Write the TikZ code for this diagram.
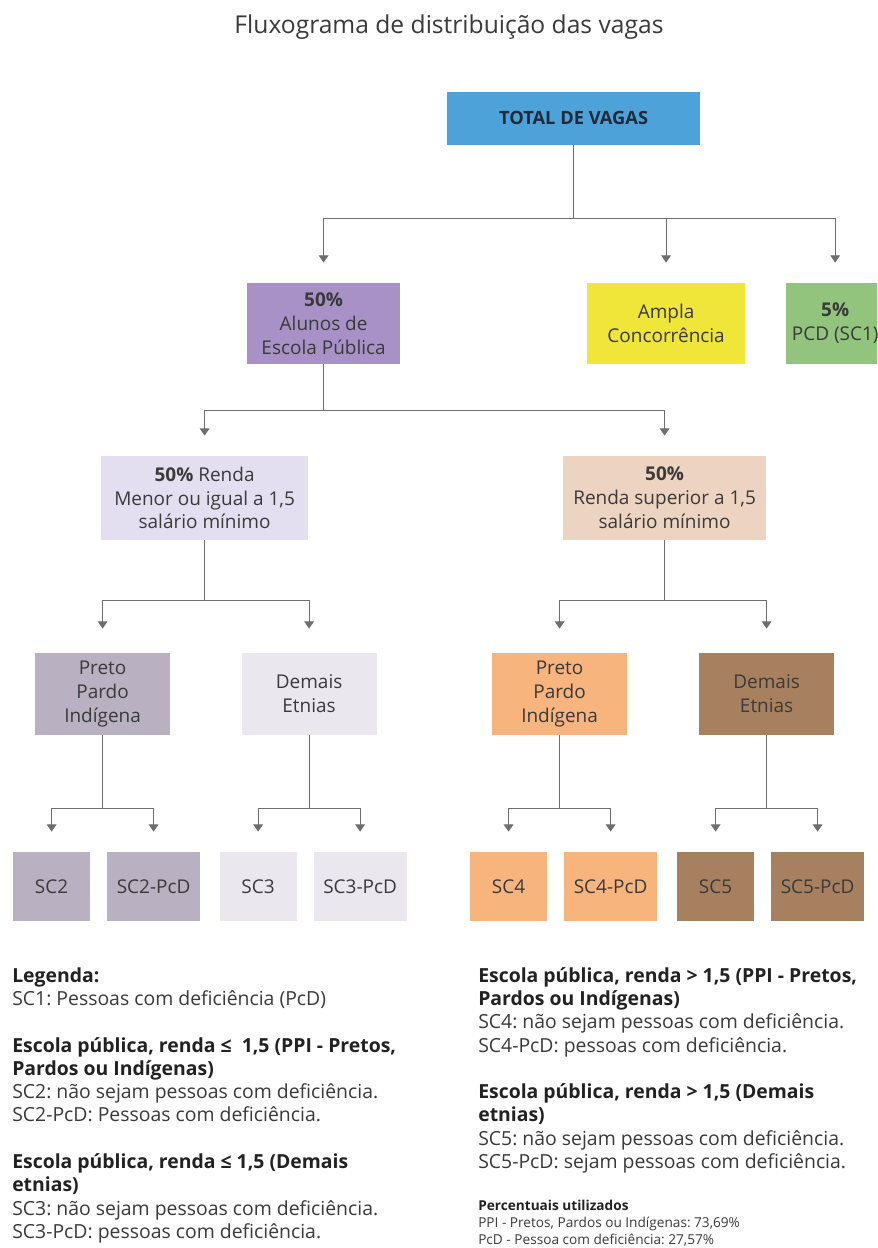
\documentclass[tikz,border=0pt]{standalone}
\usepackage{fontspec}
\setmainfont{Open Sans}
\frenchspacing
\usetikzlibrary{positioning,arrows.meta}
\definecolor{cTotal}{HTML}{4DA3D9}
\definecolor{cAlunos}{HTML}{A791C6}
\definecolor{cAmpla}{HTML}{F0E63A}
\definecolor{cPcd}{HTML}{93C47D}
\definecolor{cRendaA}{HTML}{E4DFF0}
\definecolor{cRendaB}{HTML}{EDD3C1}
\definecolor{cPpiA}{HTML}{B9B0C1}
\definecolor{cDemA}{HTML}{EAE7EE}
\definecolor{cPpiB}{HTML}{F8B47D}
\definecolor{cDemB}{HTML}{A7805F}
\definecolor{lgray}{HTML}{6E6E6E}
\definecolor{txtgray}{HTML}{3A3A3A}
\definecolor{txtdark}{HTML}{222222}
\definecolor{navy}{HTML}{1D2B3A}

\begin{document}
\begin{tikzpicture}[
	box/.style={on grid, rectangle, align=center, inner sep=2pt, text=txtgray, font=\fontsize{13.5}{17}\selectfont},
	lvone/.style={box, minimum height=2.025cm},
	lvtwo/.style={box, minimum width=5.1cm, minimum height=2.1cm},
	lvthree/.style={box, minimum width=3.375cm, minimum height=2.05cm},
	leaf/.style={box, minimum height=1.725cm},
	leafpcd/.style={leaf, minimum width=2.325cm},
	leafsc/.style={leaf, minimum width=1.925cm},
	link/.style={draw=lgray, line width=0.7pt},
	arr/.style={link, -{Triangle[width=0.24cm,length=0.18cm]}},
	lgbold/.style={anchor=base west, inner sep=0pt, text=txtdark, font=\fontsize{13.8}{16.6}\selectfont\bfseries},
	lgtext/.style={anchor=base west, inner sep=0pt, text=txtgray, font=\fontsize{13.8}{16.6}\selectfont},
	]
	\useasboundingbox (0,0) rectangle (21.925,-31.2);
	\clip (0,0) rectangle (21.925,-31.2);
	\fill[white] (0,0) rectangle (21.925,-31.2);
	%% title
	\node[text=txtgray, font=\fontsize{17.5}{20}\selectfont] (title) at (11.225,-0.675) {Fluxograma de distribuição das vagas};
	%% top
	\node[box, fill=cTotal, text=navy, minimum width=6.325cm, minimum height=1.325cm, font=\fontsize{13}{16}\selectfont\bfseries] (total) at (14.34,-2.96) {TOTAL DE VAGAS};
	%% level 1
	\node[lvone, fill=cAlunos, minimum width=3.825cm, below left =5.125cm and 6.25cm of total] (alunos) {\textbf{50\%}\\Alunos de\\Escola Pública};
	\node[lvone, fill=cAmpla, minimum width=3.95cm, below right =5.125cm and 2.3125cm of total] (ampla) {Ampla\\Concorrência};
	\node[lvone, fill=cPcd, minimum width=2.45cm, below right =5.125cm and 6.54cm of total] (pcd) {\textbf{5\%}\\PCD (SC1)};
	%% level 2
	\node[lvtwo, fill=cRendaA, minimum width=5.175cm, below left =4.3625cm and 2.975cm of alunos] (rendaA) {\textbf{50\%} Renda\\Menor ou igual a 1,5\\salário mínimo};
	\node[lvtwo, fill=cRendaB, minimum width=5.075cm, below right =4.3625cm and 8.525cm of alunos] (rendaB) {\textbf{50\%}\\Renda superior a 1,5\\salário mínimo};
	%% level 3
	\node[lvthree, fill=cPpiA, below left =4.9cm and 2.55cm of rendaA] (ppiA) {Preto\\Pardo\\Indígena};
	\node[lvthree, fill=cDemA, below right =4.9cm and 2.6125cm of rendaA] (demA) {Demais\\Etnias};
	\node[lvthree, fill=cPpiB, below left =4.9cm and 2.625cm of rendaB] (ppiB) {Preto\\Pardo\\Indígena};
	\node[lvthree, fill=cDemB, below right =4.9cm and 2.55cm of rendaB] (demB) {Demais\\Etnias};
	%% level 4
	\node[leafsc, fill=cPpiA, below left =4.8125cm and 1.275cm of ppiA] (sc2) {SC2};
	\node[leafpcd, fill=cPpiA, below right =4.8125cm and 1.275cm of ppiA] (sc2p) {SC2-PcD};
	\node[leafsc, fill=cDemA, below left =4.8125cm and 1.275cm of demA] (sc3) {SC3};
	\node[leafpcd, fill=cDemA, below right =4.8125cm and 1.275cm of demA] (sc3p) {SC3-PcD};
	\node[leafsc, fill=cPpiB, below left =4.8125cm and 1.275cm of ppiB] (sc4) {SC4};
	\node[leafpcd, fill=cPpiB, below right =4.8125cm and 1.275cm of ppiB] (sc4p) {SC4-PcD};
	\node[leafsc, fill=cDemB, below left =4.8125cm and 1.275cm of demB] (sc5) {SC5};
	\node[leafpcd, fill=cDemB, below right =4.8125cm and 1.275cm of demB] (sc5p) {SC5-PcD};
	% ligacoes
	\draw[link] (total.south) -- ++(0,-1.825) coordinate (j0);
	\draw[link] (alunos |- j0) -- (pcd |- j0);
	\foreach \n in {alunos,ampla,pcd} \draw[arr] (\n |- j0) -- ([yshift=0.5cm]\n.north);
	\draw[link] (alunos.south) -- ++(0,-1.15) coordinate (j1);
	\draw[link] (rendaA |- j1) -- (rendaB |- j1);
	\foreach \n in {rendaA,rendaB} \draw[arr] (\n |- j1) -- ([yshift=0.5cm]\n.north);
	\draw[link] (rendaA.south) -- ++(0,-1.5) coordinate (j2a);
	\draw[link] (ppiA |- j2a) -- (demA |- j2a);
	\draw[link] (rendaB.south) -- ++(0,-1.5) coordinate (j2b);
	\draw[link] (ppiB |- j2b) -- (demB |- j2b);
	\foreach \n in {ppiA,demA,ppiB,demB} \draw[arr] (\n |- j2a) -- ([yshift=0.6cm]\n.north);
	\foreach \p/\a/\b in {ppiA/sc2/sc2p,demA/sc3/sc3p,ppiB/sc4/sc4p,demB/sc5/sc5p}{
		\draw[link] (\p.south) -- ++(0,-1.825) coordinate (j\p);
		\draw[link] (\a |- j\p) -- (\b |- j\p);
		\draw[arr] (\a |- j\p) -- ([yshift=0.5cm]\a.north);
		\draw[arr] (\b |- j\p) -- ([yshift=0.5cm]\b.north);
	}
	%% legenda esquerda
	\node[lgbold] (lgA1) at (0.3,-24.55) {Legenda:};
	\node[lgtext] (lgA2) at (0.3,-25.13) {SC1: Pessoas com deficiência (PcD)};
	\node[lgbold] (lgA3) at (0.3,-26.30) {Escola pública, renda ≤\ \ 1,5 (PPI - Pretos,};
	\node[lgbold] (lgA4) at (0.3,-26.88) {Pardos ou Indígenas)};
	\node[lgtext] (lgA5) at (0.3,-27.46) {SC2: não sejam pessoas com deficiência.};
	\node[lgtext] (lgA6) at (0.3,-28.04) {SC2-PcD: Pessoas com deficiência.};
	\node[lgbold] (lgA7) at (0.3,-29.21) {Escola pública, renda ≤ 1,5 (Demais};
	\node[lgbold] (lgA8) at (0.3,-29.79) {etnias)};
	\node[lgtext] (lgA9) at (0.3,-30.38) {SC3: não sejam pessoas com deficiência.};
	\node[lgtext] (lgA10) at (0.3,-30.96) {SC3-PcD: pessoas com deficiência.};
	%% legenda direita
	\node[lgbold] (lgB1) at (11.95,-24.55) {Escola pública, renda > 1,5 (PPI - Pretos,};
	\node[lgbold] (lgB2) at (11.95,-25.13) {Pardos ou Indígenas)};
	\node[lgtext] (lgB3) at (11.95,-25.71) {SC4: não sejam pessoas com deficiência.};
	\node[lgtext] (lgB4) at (11.95,-26.30) {SC4-PcD: pessoas com deficiência.};
	\node[lgbold] (lgB5) at (11.95,-27.46) {Escola pública, renda > 1,5 (Demais};
	\node[lgbold] (lgB6) at (11.95,-28.04) {etnias)};
	\node[lgtext] (lgB7) at (11.95,-28.63) {SC5: não sejam pessoas com deficiência.};
	\node[lgtext] (lgB8) at (11.95,-29.21) {SC5-PcD: sejam pessoas com deficiência.};
	\node[lgbold, font=\fontsize{9.7}{12}\selectfont\bfseries] (lgB9) at (11.95,-30.25) {Percentuais utilizados};
	\node[lgtext, font=\fontsize{9.7}{12}\selectfont] (lgB10) at (11.95,-30.675) {PPI - Pretos, Pardos ou Indígenas: 73,69\%};
	\node[lgtext, font=\fontsize{9.7}{12}\selectfont] (lgB11) at (11.95,-31.1) {PcD - Pessoa com deficiência: 27,57\%};
\end{tikzpicture}
\end{document}
